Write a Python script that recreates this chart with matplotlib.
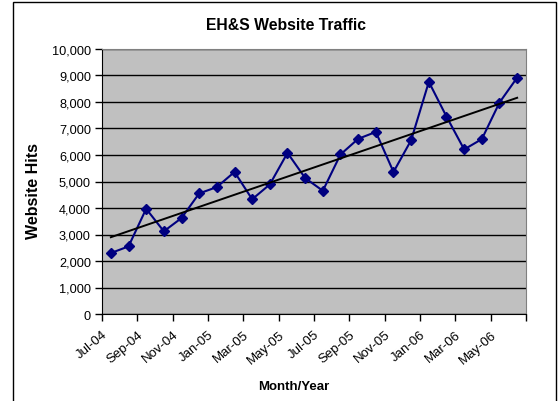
import numpy as np
import matplotlib
matplotlib.use("Agg")
import matplotlib.pyplot as plt
import matplotlib.ticker as mticker
from matplotlib.patches import Rectangle

##-----------------------------
## data
##-----------------------------
months = ["Jul-04", "Aug-04", "Sep-04", "Oct-04", "Nov-04", "Dec-04",
          "Jan-05", "Feb-05", "Mar-05", "Apr-05", "May-05", "Jun-05",
          "Jul-05", "Aug-05", "Sep-05", "Oct-05", "Nov-05", "Dec-05",
          "Jan-06", "Feb-06", "Mar-06", "Apr-06", "May-06", "Jun-06"]
hits = [2300, 2550, 3970, 3120, 3620, 4550,
        4790, 5360, 4330, 4890, 6080, 5130,
        4650, 6020, 6610, 6870, 5360, 6560,
        8760, 7450, 6210, 6600, 7980, 8920]
label_months = months[::2]
y_ticks = [0, 1000, 2000, 3000, 4000, 5000, 6000, 7000, 8000, 9000, 10000]

plt.rcParams['font.family'] = ['Liberation Sans', 'DejaVu Sans']

##-----------------------------
## plot
##-----------------------------
fig = plt.figure(figsize=(5.58, 4.02), dpi=100)
ax = fig.add_axes([102/558, 1-315/402, 424/558, 265/402])

x = np.arange(len(hits))
ax.set_facecolor("#C0C0C0")
ax.plot(x, hits, color="#000080", lw=1.5, marker="D", ms=5.5, zorder=3)

## linear trend line
coef = np.polyfit(x, hits, 1)
ax.plot([x[0], x[-1]], np.polyval(coef, [x[0], x[-1]]), color="black", lw=1.4, zorder=4)

## axes
ax.set_xlim(-0.5, len(hits) - 0.5)
ax.set_ylim(0, 10000)
ax.set_yticks(y_ticks)
ax.yaxis.set_major_formatter(mticker.StrMethodFormatter("{x:,.0f}"))
ax.yaxis.grid(True, color="black", lw=1)
ax.set_axisbelow(True)

tick_pos = np.arange(-0.5, len(hits), 2)
ax.set_xticks(tick_pos)
ax.set_xticklabels(label_months + [""], rotation=40, ha="right", rotation_mode="anchor",
                   fontsize=9.5)
## shift labels a little to the right of their tick, as in the original
for lbl in ax.get_xticklabels():
    lbl.set_x(lbl.get_position()[0] + 0.15)

ax.tick_params(axis="both", direction="out", length=5, width=1, color="black")
ax.tick_params(axis="y", labelsize=9.2, pad=3)
ax.tick_params(axis="x", pad=5)

for s in ["top", "right"]:
    ax.spines[s].set_color("#808080")
for s in ["left", "bottom"]:
    ax.spines[s].set_color("black")

fig.text(286/558, 1-26/402, "EH&S Website Traffic", ha="center", va="center",
         fontsize=11.3, fontweight="bold")
fig.text(33/558, 1-191/402, "Website Hits", ha="center", va="center",
         rotation=90, fontsize=11.5, fontweight="bold")
fig.text(294/558, 1-387/402, "Month/Year", ha="center", va="center",
         fontsize=9.5, fontweight="bold")

## outer frame
fig.patches.append(Rectangle((13/558, -0.05), 543/558, 1.05 - 3/402,
                             transform=fig.transFigure, fill=False,
                             edgecolor="black", lw=1))

plt.savefig("out.png", dpi=100)
